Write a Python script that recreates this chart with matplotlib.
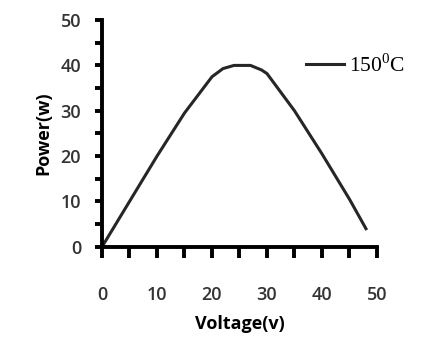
import numpy as np
import matplotlib
matplotlib.use('Agg')
import matplotlib.pyplot as plt

# data
voltage = [0, 5, 10, 15, 20, 22, 24, 26, 27, 29, 30, 35, 40, 45, 48]
power = [0, 10, 20, 29.5, 37.5, 39.3, 40, 40, 40, 39, 38.2, 30, 20.5, 10.5, 4]
series_label = r'150$^{\mathregular{0}}$C'

x_ticks = [0, 10, 20, 30, 40, 50]
y_ticks = [0, 10, 20, 30, 40, 50]

fig = plt.figure(figsize=(4.25, 3.4), dpi=100)
ax = fig.add_axes([0.24, 0.274, 0.647, 0.667])

ax.plot(voltage, power, color='#262626', linewidth=2.2)

ax.set_xlim(0, 50)
ax.set_ylim(0, 50)
ax.set_xticks(x_ticks)
ax.set_yticks(y_ticks)
ax.set_xticks(np.arange(5, 50, 10), minor=True)
ax.set_yticks(np.arange(5, 50, 10), minor=True)

for s in ['top', 'right']:
    ax.spines[s].set_visible(False)
for s in ['left', 'bottom']:
    ax.spines[s].set_linewidth(2.8)
    ax.spines[s].set_color('black')

ax.tick_params(axis='x', which='both', direction='out', length=8, width=2.8, pad=20)
ax.tick_params(axis='y', which='both', direction='out', length=5, width=2.8, pad=10)
for lab in ax.get_xticklabels() + ax.get_yticklabels():
    lab.set_fontfamily('Open Sans')
    lab.set_fontsize(13)
    lab.set_fontweight('semibold')
    lab.set_color('#333333')

ax.set_xlabel('Voltage(v)', fontfamily='Open Sans', fontweight='bold', fontsize=13, labelpad=8)
ax.set_ylabel('Power(w)', fontfamily='Open Sans', fontweight='bold', fontsize=13, labelpad=6)

# legend entry, drawn as line + text
ax.legend([series_label], loc='upper right', bbox_to_anchor=(1.17, 0.935),
          frameon=False, handlelength=1.8, handletextpad=0.2,
          prop={'family': 'Liberation Serif', 'size': 15.5})

fig.savefig('out.png', dpi=100, facecolor='white')
